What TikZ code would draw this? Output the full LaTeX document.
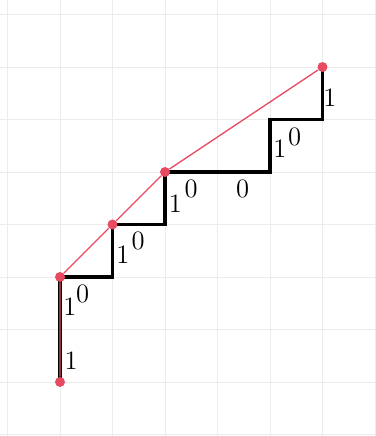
\documentclass[tikz,border=0pt]{standalone}
\definecolor{dotred}{RGB}{232,74,98}
\definecolor{gridgray}{RGB}{236,236,236}

\begin{document}
\begin{tikzpicture}[line width=0.5pt,
    dot/.style={circle, fill=dotred, inner sep=0pt, minimum size=0.19cm},
    lbl/.style={font=\Large, inner sep=0pt}]
  \useasboundingbox (-1.143,-1.029) rectangle (6.019,7.276);
  \foreach \x in {-1,...,6} { \draw[gridgray] (\x,-1.029) -- (\x,7.276); }
  \foreach \y in {-1,...,7} { \draw[gridgray] (-1.143,\y) -- (6.019,\y); }
  \draw[line width=1.9pt] (0,0) |- (1,2) |- (2,3) |- (4,4) |- (5,5) -- (5,6);
  \node[dot] (p0) at (0,0) {};
  \node[dot] (p1) at (0,2) {};
  \node[dot] (p2) at (1,3) {};
  \node[dot] (p3) at (2,4) {};
  \node[dot] (p4) at (5,6) {};
  \draw[dotred, line width=0.7pt] (p0) -- (p1) -- (p2) -- (p3) -- (p4);
  \node[lbl] (a1) at (0.21,0.40) {1};
  \node[lbl] (a2) at (0.19,1.43) {1};
  \node[lbl] (b1) at (0.43,1.67) {0};
  \node[lbl] (a3) at (1.20,2.42) {1};
  \node[lbl] (b2) at (1.49,2.69) {0};
  \node[lbl] (a4) at (2.20,3.39) {1};
  \node[lbl] (b3) at (2.50,3.68) {0};
  \node[lbl] (b4) at (3.48,3.68) {0};
  \node[lbl] (a5) at (4.19,4.44) {1};
  \node[lbl] (b5) at (4.47,4.67) {0};
  \node[lbl] (a6) at (5.14,5.41) {1};
\end{tikzpicture}
\end{document}
